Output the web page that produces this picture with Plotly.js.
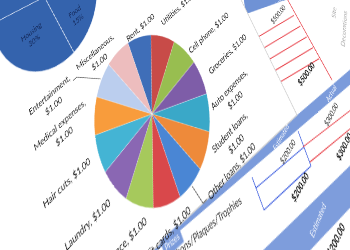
<!DOCTYPE html>
<html>
<head>
<meta charset="utf-8">
<script src="https://cdn.plot.ly/plotly-3.0.1.min.js"></script>
<style>
  html, body { margin: 0; padding: 0; background: #ffffff; }
  body { width: 350px; height: 250px; overflow: hidden; position: relative; }
  #sheet { position: absolute; left: 0; top: 0; width: 760px; height: 700px; transform-origin: 0 0; }
</style>
</head>
<body>
<div id="sheet"></div>
<script>
// Monthly expenses, one dollar each
const expenseLabels = ["Rent", "Utilities", "Cell phone", "Groceries", "Auto expenses", "Student loans",
  "Other loans", "Credit cards", "Insurance", "Laundry", "Hair cuts", "Medical expenses",
  "Entertainment", "Miscellaneous"];
const expenseValues = [1, 1, 1, 1, 1, 1, 1, 1, 1, 1, 1, 1, 1, 1];
const expenseColors = ["#3f6eb8", "#c84b48", "#98be50", "#7e5da8", "#3aa8c8", "#ee8a3a",
  "#4a86d4", "#d9484b", "#a6c95c", "#8a67b3", "#44b4d4", "#f89c3c", "#bbceee", "#edbdbe"];
const twoLineLabels = ["Miscellaneous", "Entertainment", "Medical expenses", "Auto expenses", "Student loans"];

// Budget share pie in the corner of the sheet (percent)
const shareLabels = ["Food", "Housing", "Other"];
const shareValues = [15, 30, 55];

// Sheet cell texts, placed in view pixels
const tableTexts = [
  {text: "Actual", sx: 277, sy: 4, angle: 2, size: 9.5, color: "#ffffff"},
  {text: "$500.00", sx: 278, sy: 14, angle: -5, size: 10, color: "#222222"},
  {text: "<b>$500.00</b>", sx: 306, sy: 73, angle: -5, size: 11, color: "#111111"},
  {text: "Site", sx: 334, sy: 12, angle: -35, size: 10, color: "#a8a8a8"},
  {text: "Decorations", sx: 344, sy: 28, angle: -35, size: 10, color: "#a8a8a8"},
  {text: "Actual", sx: 331, sy: 93, angle: -10, size: 9.5, color: "#ffffff"},
  {text: "$300.00", sx: 331, sy: 114, angle: -10, size: 9.5, color: "#222222"},
  {text: "<b>$300.00</b>", sx: 344, sy: 146, angle: -10, size: 10.5, color: "#111111"},
  {text: "Estimated", sx: 281, sy: 137, angle: -10, size: 9, color: "#ffffff"},
  {text: "$200.00", sx: 288, sy: 151, angle: -8, size: 9.5, color: "#222222"},
  {text: "<b>$200.00</b>", sx: 300, sy: 187, angle: -8, size: 10.5, color: "#111111"},
  {text: "Ribbons/Plaques/Trophies", sx: 205, sy: 229, angle: 8, size: 11.5, color: "#333333"},
  {text: "Prizes", sx: 172, sy: 242, angle: 5, size: 9.5, color: "#ffffff", bg: "#7b9bdb"},
  {text: "Estimated", sx: 318, sy: 220, angle: -14, size: 9.5, color: "#ffffff"},
  {text: "<b>$200.00</b>", sx: 336, sy: 239, angle: -10, size: 11, color: "#111111"}
];

// Frame of the sheet: the plot is laid out flat, then tilted into view
const FRAME = {w: 760, h: 700, cx: 350, cy: 350, r: 100};
const VIEW_CENTER = [152, 114];
const TILT = [0.4777, -0.4777, 0.320, 0.7133]; // a, b, c, d
const DEPTH = 0.00101;                          // foreshortening per view pixel
const PIE_ROTATION = 7;
const LABEL_SIZE = 12;
const LABEL_GAP = 1.16;                         // label ring, in pie radii
// best-fit adjustments of crowded labels (sheet px), and the ones given leader lines
const LABEL_NUDGE = {"Rent": [-6, 12], "Utilities": [8, 0], "Cell phone": [-6, 13],
  "Auto expenses": [0, -11], "Student loans": [19, -13], "Other loans": [58, 2],
  "Miscellaneous": [-29, 15], "Entertainment": [-57, -1]};
const LEADERS = ["Other loans", "Entertainment"];

const [ta, tb, tc, td] = TILT;
const [sx0, sy0] = VIEW_CENTER;
{
  const g1 = -DEPTH * tb, g2 = -DEPTH * td;
  const g0 = 1 + DEPTH * (tb * FRAME.cx + td * FRAME.cy);
  const h11 = ta + sx0 * g1, h12 = tc + sx0 * g2, h13 = sx0 * g0 - (ta * FRAME.cx + tc * FRAME.cy);
  const h21 = tb + sy0 * g1, h22 = td + sy0 * g2, h23 = sy0 * g0 - (tb * FRAME.cx + td * FRAME.cy);
  document.getElementById("sheet").style.transform =
    `matrix3d(${h11},${h21},0,${g1},${h12},${h22},0,${g2},0,0,1,0,${h13},${h23},0,${g0})`;
}

// view pixel -> sheet pixel
function toSheet(sx, sy) {
  const k = 1 + DEPTH * (sy - sy0);
  const vx = (sx - sx0) / k, vy = (sy - sy0) / k;
  const det = ta * td - tb * tc;
  return [FRAME.cx + (td * vx - tc * vy) / det, FRAME.cy + (-tb * vx + ta * vy) / det];
}
const px = X => X / FRAME.w, py = Y => 1 - Y / FRAME.h;
// view pixel -> paper fraction
function toPaper(sx, sy) {
  const [X, Y] = toSheet(sx, sy);
  return [px(X), py(Y)];
}
function polyPath(pts) {
  return "M " + pts.map(p => toPaper(p[0], p[1]).map(v => v.toFixed(5)).join(" ")).join(" L ") + " Z";
}
function poly(pts, fill, line, lw) {
  return {type: "path", xref: "paper", yref: "paper", path: polyPath(pts), fillcolor: fill,
    line: {color: line || "rgba(0,0,0,0)", width: lw || 0}, layer: "below"};
}
function seg(p, q, color, w) {
  const a = toPaper(p[0], p[1]), b = toPaper(q[0], q[1]);
  return {type: "line", xref: "paper", yref: "paper", x0: a[0], y0: a[1], x1: b[0], y1: b[1],
    line: {color: color, width: w}, layer: "below"};
}

const shapes = [];
// header bands of the sheet
shapes.push(poly([[100, 284.6], [385, 39.5], [385, 54.5], [100, 299.6]], "#7b9bdb"));
shapes.push(poly([[255, 258], [362, 154], [362, 195], [303, 258]], "#7e9ddc"));
shapes.push(poly([[243, -5], [246, 14], [291, -2], [291, -5]], "#6f92d5"));
// ruled rows of the top table
[0.2, 0.34, 0.48, 0.62, 0.76].forEach(t => {
  const r = [285 + 45 * t, 77 * t];
  shapes.push(seg([r[0] - 70, r[1] + 42], r, "#e8434b", 1.3));
});
shapes.push(seg([285, -5], [332, 80], "#e8434b", 1.3));
// ruled cells under the second header
shapes.push(seg([252, 177], [264, 210], "#3355dd", 1.1));
shapes.push(seg([298, 131], [311, 166], "#3355dd", 1.1));
shapes.push(seg([256, 188], [304, 147], "#3355dd", 1.1));
shapes.push(seg([264, 210], [311, 166], "#3355dd", 1.1));
shapes.push(seg([303, 147], [356, 106], "#e8434b", 1.1));
shapes.push(seg([310, 162], [356, 124], "#e8434b", 1.1));
// chart area on top of the sheet
shapes.push(poly([[-60, -60], [212, -60], [297, 115], [-60, 450]], "#ffffff", "#d2d2d2", 1.4));

const annotations = tableTexts.map(t => {
  const p = toPaper(t.sx, t.sy);
  const a = {xref: "paper", yref: "paper", x: p[0], y: p[1], text: t.text, showarrow: false,
    textangle: t.angle, xanchor: "center", yanchor: "middle",
    font: {family: "Lato, 'Open Sans', sans-serif", size: t.size, color: t.color}};
  if (t.bg) { a.bgcolor = t.bg; a.borderpad = 3; }
  return a;
});

// data labels outside each slice, set just off the rim like a spreadsheet chart
const expenseText = expenseLabels.map((l, i) =>
  l + (twoLineLabels.includes(l) ? ",<br>" : ", ") + "$" + expenseValues[i].toFixed(2));
const meter = document.createElement("canvas").getContext("2d");
meter.font = LABEL_SIZE + "px Lato";
const total = expenseValues.reduce((s, v) => s + v, 0);
let run = 0;
expenseValues.forEach((v, i) => {
  const phi = (PIE_ROTATION + (run + v / 2) / total * 360) * Math.PI / 180;
  run += v;
  const lines = expenseText[i].split("<br>");
  const w = Math.max(...lines.map(s => meter.measureText(s).width));
  const h = lines.length * LABEL_SIZE * 1.25;
  const rl = FRAME.r * LABEL_GAP;
  const nudge = LABEL_NUDGE[expenseLabels[i]] || [0, 0];
  const X = FRAME.cx + Math.sin(phi) * (rl + w / 2) + nudge[0];
  const Y = FRAME.cy - Math.cos(phi) * (rl + h / 2) + nudge[1];
  annotations.push({xref: "paper", yref: "paper", x: px(X), y: py(Y),
    text: expenseText[i], showarrow: false, xanchor: "center", yanchor: "middle", align: "center",
    font: {family: "Lato, 'Open Sans', sans-serif", size: LABEL_SIZE, color: "#1e1e1e"}});
  if (LEADERS.includes(expenseLabels[i])) {
    const rimX = FRAME.cx + Math.sin(phi) * FRAME.r * 1.02;
    const rimY = FRAME.cy - Math.cos(phi) * FRAME.r * 1.02;
    const side = X > rimX ? -1 : 1;
    const edgeX = X + side * (w / 2 + 4);
    const elbowX = edgeX + side * 7;
    shapes.push({type: "path", xref: "paper", yref: "paper", layer: "above",
      path: `M ${px(rimX)} ${py(rimY)} L ${px(elbowX)} ${py(Y)} L ${px(edgeX)} ${py(Y)}`,
      line: {color: "#595959", width: 1}});
  }
});

const mainPie = {
  type: "pie", labels: expenseLabels, values: expenseValues,
  textinfo: "none", sort: false, direction: "clockwise", rotation: PIE_ROTATION,
  marker: {colors: expenseColors, line: {color: "rgba(255,255,255,0.55)", width: 0.6}},
  domain: {x: [(FRAME.cx - FRAME.r) / FRAME.w, (FRAME.cx + FRAME.r) / FRAME.w],
           y: [1 - (FRAME.cy + FRAME.r) / FRAME.h, 1 - (FRAME.cy - FRAME.r) / FRAME.h]},
  showlegend: false, hoverinfo: "skip"
};

// corner pie, centred just above the view
const shareCenter = toSheet(44, -4), shareR = 105;
const sharePie = {
  type: "pie", labels: shareLabels, values: shareValues,
  texttemplate: shareLabels.map((l, i) => i < 2 ? "%{label}<br>%{value}%" : ""),
  textposition: "inside", insidetextorientation: "horizontal", sort: false,
  direction: "clockwise", rotation: 119,
  marker: {colors: shareLabels.map(() => "#3463ad"), line: {color: "#dbe4f4", width: 1}},
  insidetextfont: {family: "Lato, 'Open Sans', sans-serif", size: 11, color: "#14295a"},
  domain: {x: [(shareCenter[0] - shareR) / FRAME.w, (shareCenter[0] + shareR) / FRAME.w],
           y: [1 - (shareCenter[1] + shareR) / FRAME.h, 1 - (shareCenter[1] - shareR) / FRAME.h]},
  showlegend: false, hoverinfo: "skip"
};

Plotly.newPlot("sheet", [sharePie, mainPie], {
  width: FRAME.w, height: FRAME.h,
  margin: {l: 0, r: 0, t: 0, b: 0},
  paper_bgcolor: "rgba(0,0,0,0)", plot_bgcolor: "rgba(0,0,0,0)",
  shapes: shapes, annotations: annotations, showlegend: false
}, {staticPlot: true, displayModeBar: false});
</script>
</body>
</html>
